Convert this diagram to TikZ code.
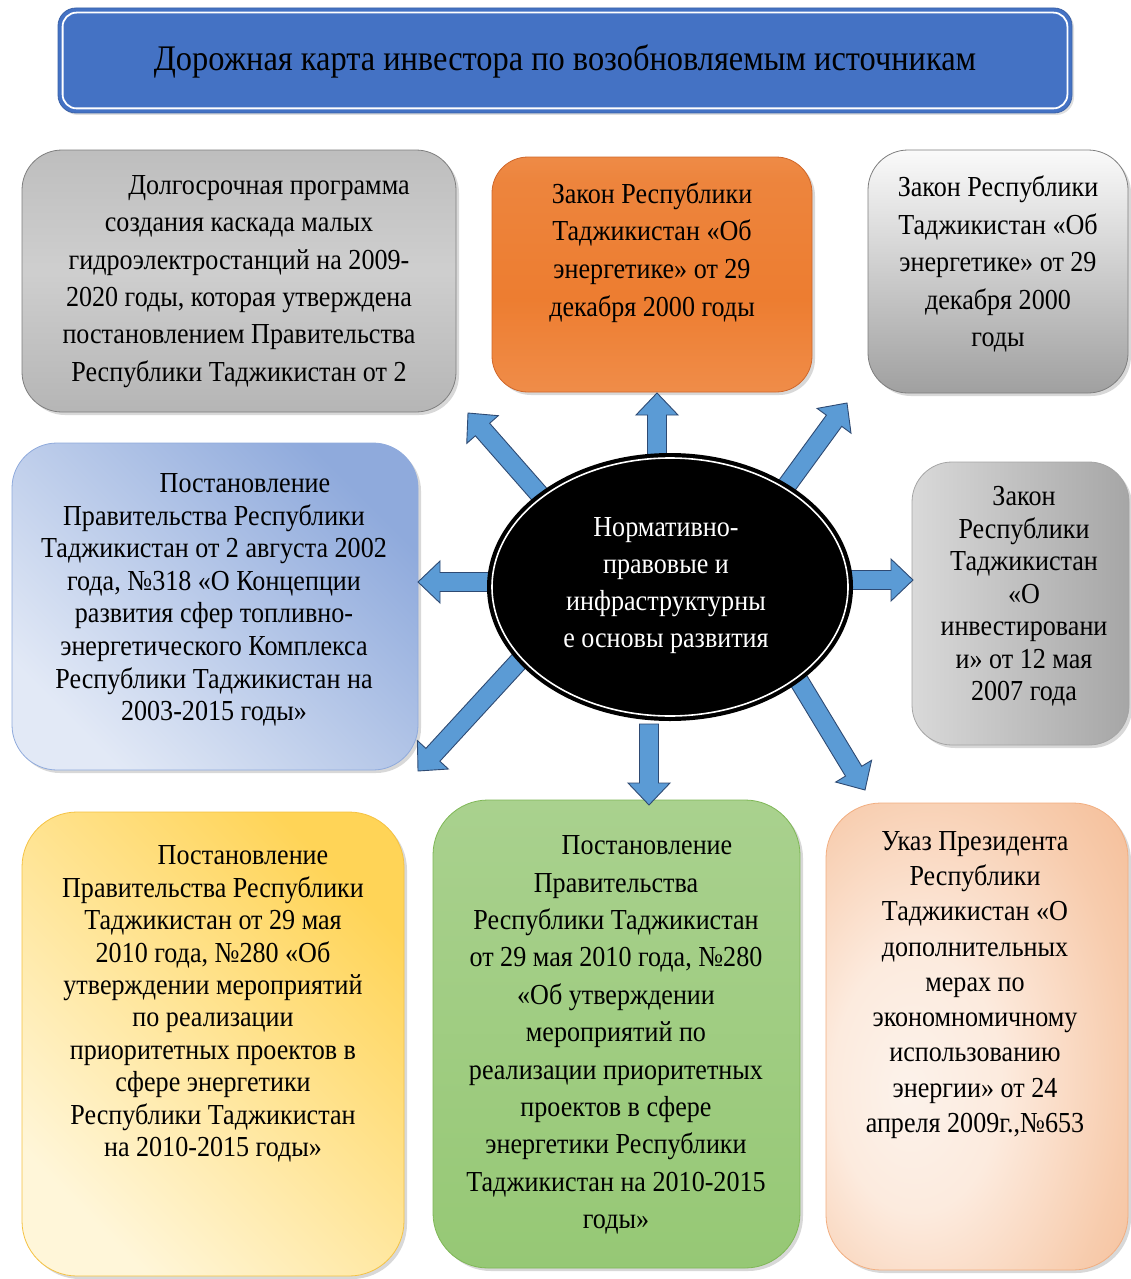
\documentclass[tikz,border=0pt]{standalone}
\usepackage{fontspec}
\setmainfont{Liberation Serif}[FakeStretch=0.9]
\usetikzlibrary{calc,shadows,shapes.geometric}

\definecolor{titleblue}{HTML}{4472C4}
\definecolor{grayline}{HTML}{7F7F7F}
\definecolor{orline}{HTML}{D0672A}
\definecolor{lgA}{HTML}{FAFAFA}
\definecolor{lgB}{HTML}{A0A0A0}
\definecolor{blA}{HTML}{8FAADC}
\definecolor{blB}{HTML}{E2E9F6}
\definecolor{sgA}{HTML}{D9D9D9}
\definecolor{sgB}{HTML}{F5F5F5}
\definecolor{sgC}{HTML}{A6A6A6}
\definecolor{yeA}{HTML}{FFD457}
\definecolor{yeB}{HTML}{FFF6D9}
\definecolor{yeline}{HTML}{F5C242}
\definecolor{grA}{HTML}{A9D18E}
\definecolor{grB}{HTML}{7FB756}
\definecolor{grC}{HTML}{96C875}
\definecolor{peline}{HTML}{F2AE80}
\definecolor{arrowfill}{HTML}{5B9BD5}
\definecolor{arrowline}{HTML}{2E4A73}

% panel fills
\pgfdeclareverticalshading{greypanel}{100bp}{%
  color(0bp)=(black!44); color(22bp)=(black!30); color(52bp)=(black!19);
  color(80bp)=(black!27); color(100bp)=(black!38)}
\pgfdeclareverticalshading{orangepanel}{100bp}{%
  rgb(0bp)=(0.96,0.72,0.56); rgb(22bp)=(0.94,0.56,0.30); rgb(45bp)=(0.93,0.49,0.19);
  rgb(70bp)=(0.93,0.52,0.24); rgb(100bp)=(0.95,0.66,0.46)}
\pgfdeclareradialshading{peachpanel}{\pgfpoint{-12bp}{-6bp}}{%
  rgb(0bp)=(0.99,0.95,0.92); rgb(14bp)=(0.99,0.92,0.87); rgb(32bp)=(0.97,0.80,0.68);
  rgb(50bp)=(0.95,0.70,0.53); rgb(80bp)=(0.94,0.66,0.47)}

\tikzset{
  panel/.style={rectangle, inner sep=0pt, line width=0.8pt,
    drop shadow={opacity=0.3, shadow xshift=3pt, shadow yshift=-3pt}},
  body/.style={font=\fontsize{29}{#1}\selectfont, align=center, inner sep=0pt},
  blockarrow/.style={fill=arrowfill, draw=arrowline, line width=0.9pt, line join=miter},
}

% block arrow from #1 (tail) to #2 (tip)
\newcommand\blockarrow[2]{%
  \coordinate (hb) at ($(#2)!22pt!(#1)$);
  \filldraw[blockarrow]
    ($(#1)!9.5pt!90:(#2)$) -- ($(hb)!9.5pt!90:(#2)$) -- ($(hb)!21pt!90:(#2)$)
    -- (#2) -- ($(hb)!21pt!-90:(#2)$) -- ($(hb)!9.5pt!-90:(#2)$)
    -- ($(#1)!9.5pt!-90:(#2)$) -- cycle;
}

\begin{document}
\begin{tikzpicture}[x=1pt,y=-1pt]
\useasboundingbox[fill=white] (0,0) rectangle (1131,1279);

% heading banner
\node[rectangle, fill=titleblue, draw=titleblue!85!black, line width=0.8pt,
      rounded corners=18pt, minimum width=1014pt, minimum height=105pt,
      drop shadow={opacity=0.25, shadow xshift=2pt, shadow yshift=-2pt}]
      (title) at (565,60.5) {};
\draw[white, line width=1.8pt, rounded corners=14pt]
  ($(title.south west)+(5,-5)$) rectangle ($(title.north east)+(-5,5)$);
\node[font=\fontsize{36}{40}\selectfont, inner sep=0pt] (titletext) at (565,61)
  {Дорожная карта инвестора по возобновляемым источникам};

% surrounding panels
\node[panel, draw=grayline, rounded corners=40pt, shading=greypanel,
      minimum width=434pt, minimum height=262pt] (p1) at (239,281) {};
\node[panel, draw=orline, rounded corners=36pt, shading=orangepanel,
      minimum width=320pt, minimum height=235pt] (p2) at (652,274.5) {};
\node[panel, draw=grayline, rounded corners=40pt, top color=lgA, bottom color=lgB,
      minimum width=260pt, minimum height=243pt] (p3) at (998,271.5) {};
\node[panel, draw=blA, rounded corners=45pt, top color=blA, bottom color=blB,
      shading angle=-45, minimum width=406pt, minimum height=327pt] (p4) at (215,606.5) {};
\node[panel, draw=grayline!70, rounded corners=40pt, left color=sgA, middle color=sgB,
      right color=sgC, minimum width=217pt, minimum height=283pt] (p5) at (1020.5,603.5) {};
\node[panel, draw=yeline, rounded corners=55pt, top color=yeA, bottom color=yeB,
      shading angle=-45, minimum width=382pt, minimum height=464pt] (p6) at (213,1044) {};
\node[panel, draw=grB, rounded corners=55pt, top color=grA, middle color=grB,
      bottom color=grC, minimum width=367pt, minimum height=468pt] (p7) at (616.5,1034) {};
\node[panel, draw=peline, rounded corners=55pt, shading=peachpanel,
      minimum width=302pt, minimum height=467pt] (p8) at (977,1036.5) {};

% arrow tails and tips
\coordinate (upS) at (657,460);  \coordinate (upT) at (657,393);
\coordinate (ulS) at (540,495);  \coordinate (ulT) at (468,413);
\coordinate (urS) at (785,488);  \coordinate (urT) at (847,403);
\coordinate (lS)  at (494,582);  \coordinate (lT)  at (418,582);
\coordinate (rS)  at (845,580);  \coordinate (rT)  at (913,580);
\coordinate (dlS) at (520,660);  \coordinate (dlT) at (418,771);
\coordinate (dS)  at (649,724);  \coordinate (dT)  at (649,805);
\coordinate (drS) at (796,676);  \coordinate (drT) at (865,790);

\blockarrow{upS}{upT}
\blockarrow{ulS}{ulT}
\blockarrow{urS}{urT}
\blockarrow{lS}{lT}
\blockarrow{rS}{rT}
\blockarrow{dlS}{dlT}
\blockarrow{dS}{dT}
\blockarrow{drS}{drT}

% central ellipse
\node[ellipse, fill=black, minimum width=366pt, minimum height=268pt, inner sep=0pt]
  (hub) at (670,587) {};
\node[ellipse, draw=white, line width=1.6pt, minimum width=356pt, minimum height=258pt,
      inner sep=0pt] (hubring) at (670,587) {};
\node[body=37, text=white] (hubtext) at (666,585.5)
  {Нормативно-\\правовые и\\инфраструктурны\\е основы развития};

% panel texts
\node[body=37.4] (t1) at (239,281.5)
  {\hspace*{60pt}Долгосрочная программа\\создания каскада малых\\гидроэлектростанций на 2009-\\2020 годы, которая утверждена\\постановлением Правительства\\Республики Таджикистан от 2};
\node[body=37.7] (t2) at (652,252.5)
  {Закон Республики\\Таджикистан «Об\\энергетике» от 29\\декабря 2000 годы};
\node[body=37.5] (t3) at (998,264)
  {Закон Республики\\Таджикистан «Об\\энергетике» от 29\\декабря 2000\\годы};
\node[body=32.6] (t4) at (214,600)
  {\hspace*{62pt}Постановление\\Правительства Республики\\Таджикистан от 2 августа 2002\\года, №318 «О Концепции\\развития сфер топливно-\\энергетического Комплекса\\Республики Таджикистан на\\2003-2015 годы»};
\node[body=32.5] (t5) at (1024,596.5)
  {Закон\\Республики\\Таджикистан\\«О\\инвестировани\\и» от 12 мая\\2007 года};
\node[body=32.4] (t6) at (213,1004)
  {\hspace*{60pt}Постановление\\Правительства Республики\\Таджикистан от 29 мая\\2010 года, №280 «Об\\утверждении мероприятий\\по реализации\\приоритетных проектов в\\сфере энергетики\\Республики Таджикистан\\на 2010-2015 годы»};
\node[body=37.4] (t7) at (616,1035)
  {\hspace*{62pt}Постановление\\Правительства\\Республики Таджикистан\\от 29 мая 2010 года, №280\\«Об утверждении\\мероприятий по\\реализации приоритетных\\проектов в сфере\\энергетики Республики\\Таджикистан на 2010-2015\\годы»};
\node[body=35.25] (t8) at (975,985)
  {Указ Президента\\Республики\\Таджикистан «О\\дополнительных\\мерах по\\экономномичному\\использованию\\энергии» от 24\\апреля 2009г.,№653};
\end{tikzpicture}
\end{document}
